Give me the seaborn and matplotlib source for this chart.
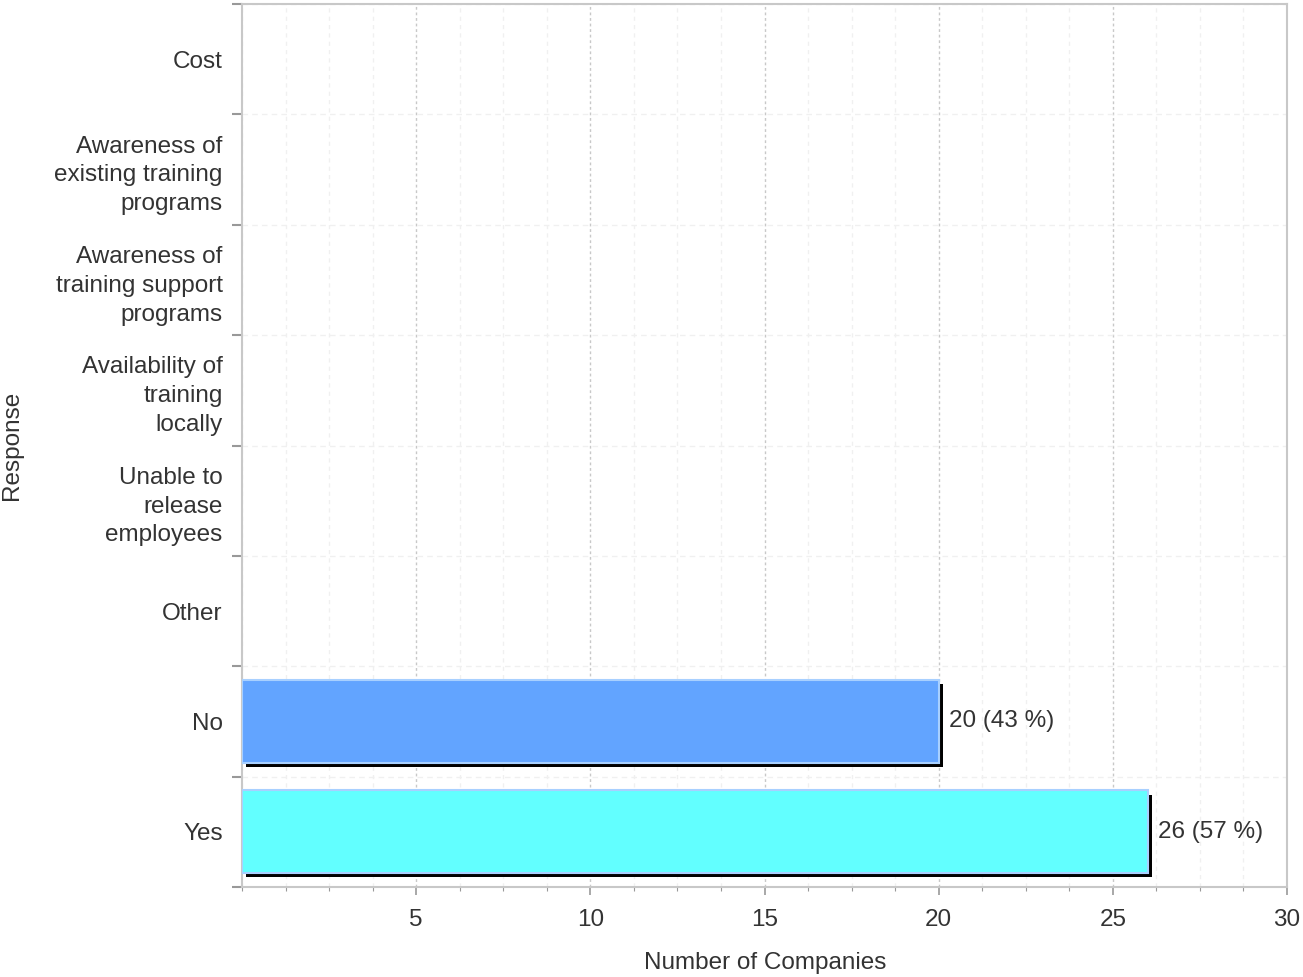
import matplotlib
matplotlib.use("Agg")
import matplotlib.pyplot as plt
import matplotlib.patheffects as pe
from matplotlib.ticker import MultipleLocator
import seaborn as sns
import pandas as pd

categories = ["Cost", "Awareness of\nexisting training\nprograms",
              "Awareness of\ntraining support\nprograms",
              "Availability of\ntraining\nlocally",
              "Unable to\nrelease\nemployees", "Other", "No", "Yes"]
values = [0, 0, 0, 0, 0, 0, 20, 26]
labels = ["", "", "", "", "", "", "20 (43 %)", "26 (57 %)"]
colors = ["#62a4ff"] * 7 + ["#62ffff"]

FS = 17.5
TXT = "#333333"

sns.set_theme(style="white")
plt.rcParams['font.family'] = ['Liberation Sans', 'DejaVu Sans']

fig = plt.figure(figsize=(13.03, 9.77), dpi=100)
ax = fig.add_axes([242/1303, 1 - 887/977, (1287-242)/1303, (887-4)/977])

df = pd.DataFrame({"cat": categories, "val": values})
sns.barplot(data=df, x="val", y="cat", order=categories, hue="cat",
            palette=colors, legend=False, width=0.75, ax=ax, zorder=3,
            saturation=1, edgecolor="#a8d0ff", linewidth=1.5)

for p in ax.patches:
    if p.get_width() > 0:
        p.set_path_effects([pe.SimplePatchShadow(offset=(3, -3), shadow_rgbFace="black", alpha=1.0), pe.Normal()])
    else:
        p.set_visible(False)

for i, (v, lab) in enumerate(zip(values, labels)):
    if lab:
        ax.annotate(lab, (v, i), xytext=(7.5, 0), textcoords="offset points",
                    va="center", ha="left", fontsize=FS, color=TXT)

ax.set_xlim(0, 30)
ax.set_ylim(len(categories) - 0.5, -0.5)
ax.xaxis.set_minor_locator(MultipleLocator(1.25))
ax.set_xticks([5, 10, 15, 20, 25, 30])
ax.set_yticks(range(len(categories)))
ax.set_yticklabels(categories, linespacing=1.4)
ax.set_yticks([i - 0.5 for i in range(len(categories) + 1)], minor=True)

ax.tick_params(axis="y", which="major", left=True, length=0, labelsize=FS, labelcolor=TXT, pad=14)
ax.tick_params(axis="y", which="minor", left=True, length=7, width=1.5, color="#999999", direction="out")
ax.tick_params(axis="x", which="major", bottom=True, length=6, width=1.2, color="#999999", labelsize=FS,
               labelcolor=TXT, pad=10, direction="out")
ax.tick_params(axis="x", which="minor", bottom=True, length=3, width=0.8, color="#999999", direction="out")

ax.grid(False)
ax.grid(True, axis="x", which="major", color="#c8c8c8", linestyle=(0, (2, 2)), linewidth=1, zorder=0)
ax.grid(True, axis="x", which="minor", color="#f0f0f0", linestyle=(0, (3, 3)), linewidth=1, zorder=0)
ax.grid(True, axis="y", which="minor", color="#f0f0f0", linestyle=(0, (4, 3)), linewidth=1, zorder=0)
ax.set_axisbelow(True)

for s in ax.spines.values():
    s.set_visible(True)
    s.set_color("#c8c8c8")
    s.set_linewidth(1.5)

ax.set_xlabel("Number of Companies", fontsize=FS, color=TXT)
ax.set_ylabel("Response", fontsize=FS, color=TXT)
ax.xaxis.set_label_coords((765-242)/1045, -(963-887)/883)
ax.yaxis.set_label_coords(-(242-12)/1045, 0.5)
ax.xaxis.label.set_va("center")
ax.yaxis.label.set_va("center")

fig.savefig("out.png", dpi=100)
